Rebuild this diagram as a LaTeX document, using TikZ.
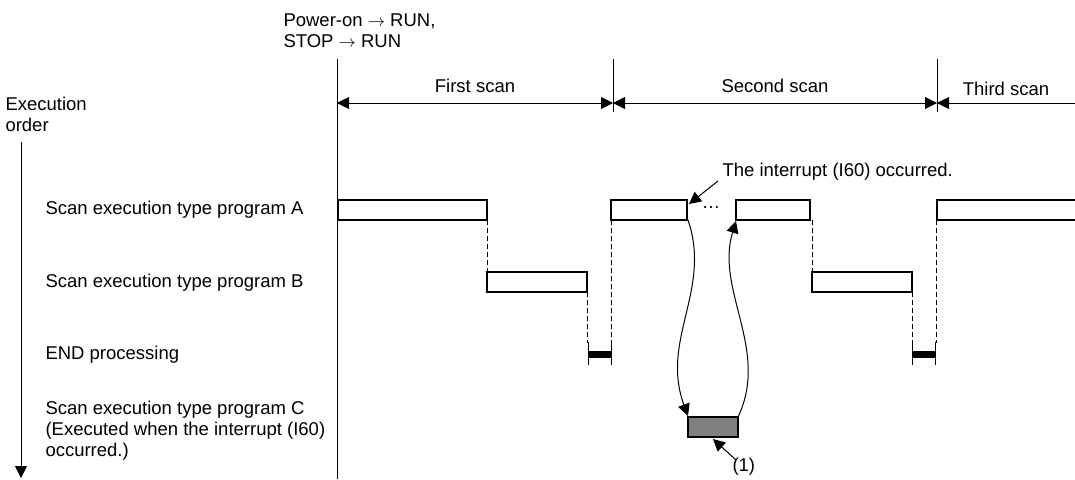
\documentclass[tikz,border=0pt]{standalone}
\usepackage{fontspec}
\setmainfont{Liberation Sans}
\usetikzlibrary{arrows.meta}

\begin{document}
\begin{tikzpicture}[
    x=1pt, y=-1pt,
    font=\fontsize{18.5}{21}\selectfont,
    line width=1pt,
    tip/.style={-{Triangle[length=12pt, width=12pt]}},
    span/.style={{Triangle[length=12pt, width=12pt]}-{Triangle[length=12pt, width=12pt]}},
    prog/.style={draw, line width=1.3pt, fill=white},
    guide/.style={dash pattern=on 5pt off 3pt, line width=1pt},
    lbl/.style={anchor=west, inner sep=0pt, align=left}
]
    \useasboundingbox (0, 0) rectangle (1075, 479);

    % Scan boundaries
    \coordinate (b0) at (337, 59);
    \coordinate (b1) at (613, 59);
    \coordinate (b2) at (937, 59);
    \coordinate (b0e) at (337, 479);
    \coordinate (b1e) at (613, 112);
    \coordinate (b2e) at (937, 112);

    % Span arrow end points
    \coordinate (s0) at (337, 103);
    \coordinate (s1) at (613, 103);
    \coordinate (s2) at (937, 103);
    \coordinate (s3) at (1075, 103);

    % Execution order axis
    \coordinate (ax) at (21, 142);
    \coordinate (axe) at (21, 478);

    % Row labels
    \node[lbl] (power) at (283, 31) {Power-on $\rightarrow$ RUN,\\STOP $\rightarrow$ RUN};
    \node[lbl] (order) at (5, 114) {Execution\\order};
    \node[lbl] (rowA) at (45, 210) {Scan execution type program A};
    \node[lbl] (rowB) at (45, 283) {Scan execution type program B};
    \node[lbl] (rowE) at (45, 355) {END processing};
    \node[lbl] (rowC) at (45, 431) {Scan execution type program C\\(Executed when the interrupt (I60)\\occurred.)};

    % Scan lines and spans
    \draw (b0) -- (b0e);
    \draw (b1) -- (b1e);
    \draw (b2) -- (b2e);
    \draw[span] (s0) -- (s1) node[midway, above=6pt] (scan1) {First scan};
    \draw[span] (s1) -- (s2) node[midway, above=6pt] (scan2) {Second scan};
    \draw[{Triangle[length=12pt, width=12pt]}-] (s2) -- (s3);
    \node (scan3) at (1006, 89) {Third scan};
    \draw[tip] (ax) -- (axe);

    % Dashed guides
    \draw[guide] (487, 220) -- (487, 272);
    \draw[guide] (587, 292) -- (587, 343);
    \draw[guide] (611, 220) -- (611, 343);
    \draw[guide] (812, 220) -- (812, 272);
    \draw[guide] (912, 292) -- (912, 343);
    \draw[guide] (936, 220) -- (936, 343);

    % Program A
    \draw[prog] (338, 200) rectangle (487, 220);
    \draw[prog] (611, 200) rectangle (687, 220);
    \draw[prog] (736, 200) rectangle (810, 220);
    \draw[prog] (937, 200) rectangle (1080, 220);
    \node (dots) at (711, 208) {\dots};

    % Program B
    \draw[prog] (487, 272) rectangle (587, 292);
    \draw[prog] (812, 272) rectangle (912, 292);

    % END processing
    \fill (588, 351) rectangle (611, 358);
    \fill (912, 351) rectangle (935, 358);
    \foreach \x in {588, 611, 912, 935}
        \draw (\x, 342) -- (\x, 365);

    % Program C
    \draw[prog, fill=black!50] (688, 417) rectangle (738, 437);

    % Interrupt jumps
    \coordinate (aOut) at (688, 220);
    \coordinate (cIn) at (688, 416);
    \coordinate (cOut) at (738, 417);
    \coordinate (aIn) at (736, 221);
    \draw[tip] (aOut) .. controls (712, 290) and (660, 340) .. (cIn);
    \draw[tip] (cOut) .. controls (770, 350) and (715, 290) .. (aIn);

    % Notes
    \node[lbl] (irq) at (722, 172) {The interrupt (I60) occurred.};
    \draw[tip] (718, 181) -- (689, 204);
    \node[lbl] (one) at (732, 467) {(1)};
    \draw[tip] (736, 460) -- (713, 439);

\end{tikzpicture}
\end{document}
